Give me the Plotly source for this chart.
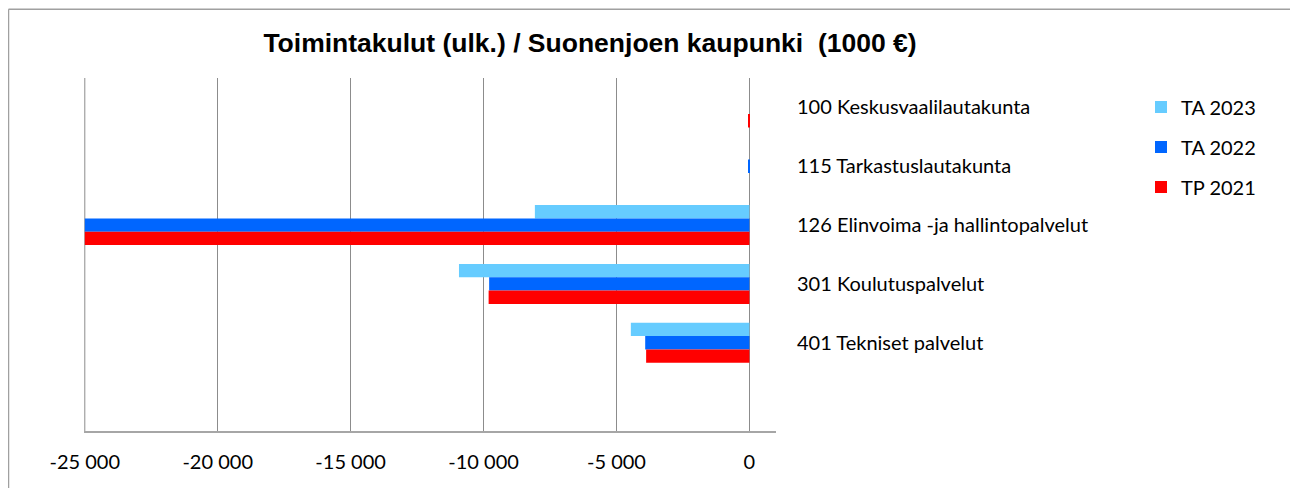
import plotly.graph_objects as go

categories = [
    "100 Keskusvaalilautakunta",
    "115 Tarkastuslautakunta",
    "126 Elinvoima -ja hallintopalvelut",
    "301 Koulutuspalvelut",
    "401 Tekniset palvelut",
]
ta_2023 = [0, 0, -8070, -10925, -4460]
ta_2022 = [0, -40, -25000, -9790, -3920]
tp_2021 = [-40, 0, -25000, -9810, -3885]
x_ticks = [-25000, -20000, -15000, -10000, -5000, 0]
x_tick_labels = ["-25 000", "-20 000", "-15 000", "-10 000", "-5 000", "0"]

series = [
    ("TA 2023", ta_2023, "#66CCFF"),
    ("TA 2022", ta_2022, "#0066FF"),
    ("TP 2021", tp_2021, "#FF0000"),
]

# page body has an 8px margin; figure coordinates = page px - 8
W, H = 1290, 480
L, R, T, B = 76, 768, 69.5, 423

fig = go.Figure()
for name, vals, color in series:
    fig.add_trace(go.Bar(
        y=categories, x=vals, name=name, orientation="h",
        marker=dict(color=color, line=dict(width=0)),
        legendgroup=name,
    ))

font_main = "Lato, 'Open Sans', sans-serif"

fig.update_layout(
    width=W, height=H,
    margin=dict(l=L, r=W - R, t=T, b=H - B, autoexpand=False),
    paper_bgcolor="white", plot_bgcolor="white",
    barmode="group", bargap=0.32, bargroupgap=0,
    title=dict(
        text="<b>Toimintakulut (ulk.) / Suonenjoen kaupunki  (1000 €)</b>",
        font=dict(family="'Liberation Sans', Arial, sans-serif", size=26.5, color="black"),
        x=582 / W, xanchor="center", xref="container",
        y=1 - 35 / H, yanchor="middle", yref="container",
    ),
    xaxis=dict(
        range=[-25030, 1000],
        tickmode="array", tickvals=x_ticks, ticktext=x_tick_labels,
        showgrid=True, gridcolor="#8c8c8c", gridwidth=1,
        zeroline=False,
        showline=True, linecolor="#a6a6a6", linewidth=1.5,
        ticks="", ticklabelstandoff=12,
        tickfont=dict(family=font_main, size=20, color="black"),
        fixedrange=True,
    ),
    yaxis=dict(
        type="category",
        categoryorder="array", categoryarray=categories,
        range=[5.5, -0.5],
        side="right",
        showgrid=False, zeroline=False, showline=False,
        ticks="", ticklabelstandoff=20,
        tickfont=dict(family=font_main, size=20, color="black"),
        fixedrange=True,
    ),
    legend=dict(
        x=(1133 - L) / (R - L), xanchor="left",
        y=(B - 79) / (B - T), yanchor="top",
        font=dict(family=font_main, size=20, color="black"),
        tracegroupgap=11,
        bgcolor="rgba(0,0,0,0)",
        traceorder="grouped",
    ),
    showlegend=True,
)

# gridline at the left edge of the value axis (suppressed by plotly at the edge)
fig.add_shape(type="line", xref="x", yref="paper",
              x0=x_ticks[0], x1=x_ticks[0], y0=0, y1=1,
              line=dict(color="#8c8c8c", width=1), layer="below")

# outer chart border (top and left edges visible)
px2x = lambda px: (px - L) / (R - L)
py2y = lambda py: (B - py) / (B - T)
fig.add_shape(type="line", xref="paper", yref="paper",
              x0=px2x(0.5), x1=px2x(W + 5), y0=py2y(0.75), y1=py2y(0.75),
              line=dict(color="#a0a0a0", width=1.5))
fig.add_shape(type="line", xref="paper", yref="paper",
              x0=px2x(0.5), x1=px2x(0.5), y0=py2y(0.75), y1=py2y(H + 5),
              line=dict(color="#a0a0a0", width=1.5))

fig.write_html("out.html")
